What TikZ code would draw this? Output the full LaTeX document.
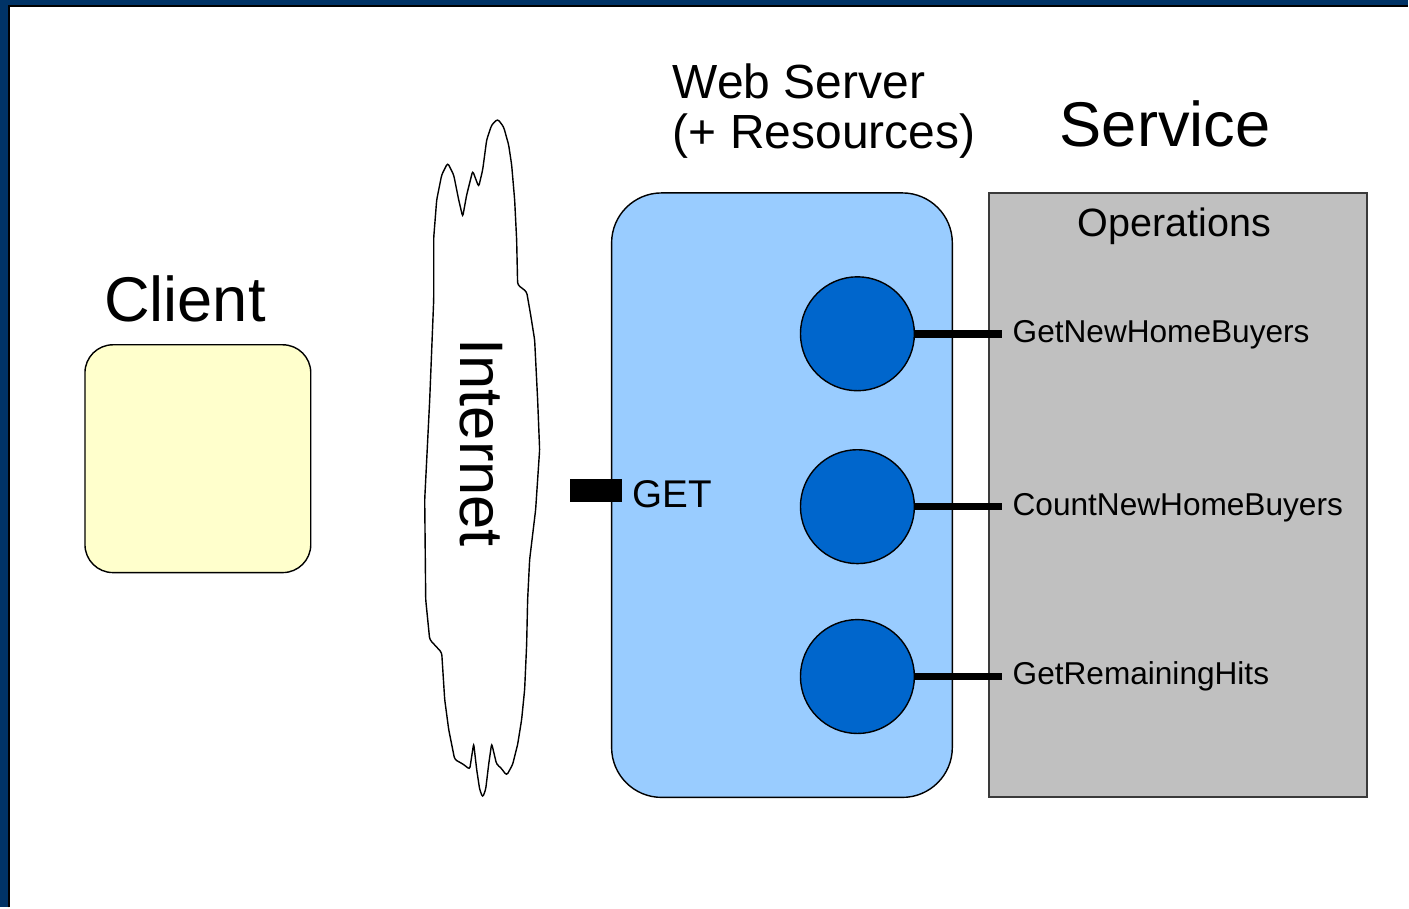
\documentclass[tikz,border=0pt]{standalone}
\usepackage{fontspec}
\setmainfont{Liberation Sans}
\usepackage{xcolor}
\usepackage{tikz}
\usetikzlibrary{positioning,calc}

\definecolor{frameblue}{HTML}{003366}
\definecolor{clientfill}{HTML}{FFFFCC}
\definecolor{serverfill}{HTML}{99CCFF}
\definecolor{opfill}{HTML}{0066CC}
\definecolor{servicefill}{HTML}{C0C0C0}
\definecolor{serviceline}{HTML}{3A3A3A}

\begin{document}
\begin{tikzpicture}[
    x=0.02cm, y=-0.02cm,
    title/.style={inner sep=0, font=\fontsize{36}{40}\selectfont},
    client/.style={rectangle, draw=black, fill=clientfill, line width=0.8pt, rounded corners=0.56cm, minimum width=4.52cm, minimum height=4.56cm},
    server/.style={rectangle, draw=black, fill=serverfill, line width=0.8pt, rounded corners=1cm, minimum width=6.82cm, minimum height=12.1cm},
    service/.style={rectangle, draw=serviceline, fill=servicefill, line width=1.2pt, minimum width=7.56cm, minimum height=12.1cm},
    op/.style={circle, draw=black, fill=opfill, line width=0.8pt, minimum size=2.28cm, inner sep=0},
    oplabel/.style={anchor=base west, inner xsep=0.2cm, inner ysep=0, font=\fontsize{18}{20}\selectfont},
    link/.style={line width=4.3pt, draw=black}
]
    % frame
    \fill [frameblue] (0,0) rectangle (1409,908);
    \fill [white] (9,6) rectangle (1409,908);
    \draw [line width=1.1pt] (9,908) -- (9,6) -- (1409,6);

    % client
    \node [client] (client) at (198,459) {};
    \node [title, anchor=base] (clienttitle) at (185,322) {Client};

    % internet cloud
    \draw [line width=0.8pt, fill=white, rounded corners=1.5pt]
        (426,600) -- (425,500) -- (430,400) -- (434,300) -- (434,238) -- (437,200)
        -- (442,175) -- (448,163) -- (454,175) -- (459,200) -- (463,217) -- (467,195)
        -- (473,171) -- (479,187) -- (483,170) -- (487,140) -- (492,125) -- (498,119)
        -- (504,127) -- (509,145) -- (512,165) -- (515,200) -- (517,240) -- (518,285)
        -- (527,292) -- (531,315) -- (535,340) -- (538,400) -- (540,450) -- (536,510)
        -- (530,560) -- (528,600) -- (527,645) -- (525,690) -- (522,720) -- (518,745)
        -- (513,765) -- (507,776) -- (501,768) -- (497,765) -- (492,744) -- (489,765)
        -- (486,790) -- (483,798) -- (480,790) -- (477,770) -- (474,744) -- (470,770)
        -- (464,765) -- (455,760) -- (449,730) -- (445,700) -- (442,653) -- (430,640) -- cycle;
    \node [title, rotate=-90, font=\fontsize{35}{40}\selectfont] (internet) at (482,443) {Internet};

    % web server
    \node [server] (server) at (782.5,495.5) {};
    \node [inner sep=0, anchor=north west, align=left, font=\fontsize{27.3}{29}\selectfont] (servertitle) at (673,63) {Web Server\\(+ Resources)};
    \node [rectangle, fill=black, inner sep=0, minimum width=1.04cm, minimum height=0.46cm] (getport) at (596,490.5) {};
    \node [inner sep=0, anchor=base west, font=\fontsize{22}{24}\selectfont] (get) at (633,508) {GET};

    % service
    \node [service] (service) at (1179,495.5) {};
    \node [title, anchor=base] (servicetitle) at (1166,147) {Service};
    \node [inner sep=0, anchor=base, font=\fontsize{22.5}{24}\selectfont] (operations) at (1175,237) {Operations};

    % operations
    \node [op] (op1) at (858,334) {};
    \node [op] (op2) at (858,507) {};
    \node [op] (op3) at (858,677) {};
    \node [oplabel] (lbl1) at (1003,343) {GetNewHomeBuyers};
    \node [oplabel] (lbl2) at (1003,516) {CountNewHomeBuyers};
    \node [oplabel] (lbl3) at (1003,685) {GetRemainingHits};

    \draw [link] (op1) -- (op1 -| lbl1.west);
    \draw [link] (op2) -- (op2 -| lbl2.west);
    \draw [link] (op3) -- (op3 -| lbl3.west);
\end{tikzpicture}
\end{document}
